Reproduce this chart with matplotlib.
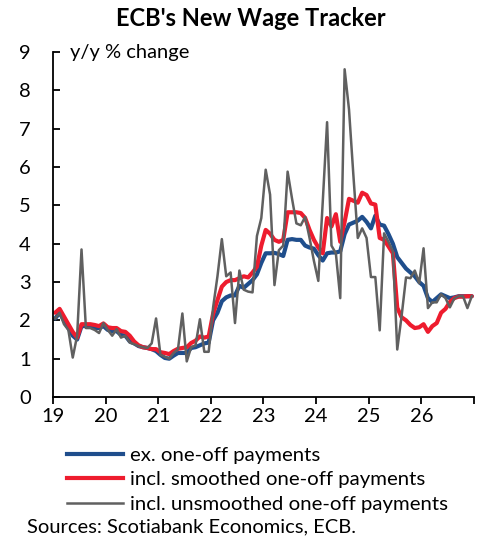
import matplotlib.pyplot as plt
import numpy as np
from matplotlib.lines import Line2D

# monthly data, Jan 2019 - Dec 2026 (y/y % change)
ex_oneoff = [2.05, 2.2, 2.0, 1.8, 1.6, 1.5, 1.85, 1.85, 1.85, 1.8, 1.8, 1.85,
             1.75, 1.72, 1.72, 1.62, 1.6, 1.45, 1.4, 1.33, 1.3, 1.28, 1.25, 1.2,
             1.1, 1.02, 1.0, 1.08, 1.15, 1.15, 1.15, 1.28, 1.3, 1.35, 1.4, 1.42,
             2.0, 2.2, 2.5, 2.6, 2.65, 2.65, 2.9, 2.85, 2.95, 3.05, 3.2, 3.5,
             3.75, 3.75, 3.76, 3.73, 3.68, 4.1, 4.12, 4.1, 4.1, 3.95, 3.9, 3.87,
             3.7, 3.56, 3.75, 3.77, 3.77, 3.8, 4.25, 4.5, 4.55, 4.6, 4.7, 4.57,
             4.4, 4.73, 4.5, 4.47, 4.25, 4.0, 3.65, 3.5, 3.35, 3.25, 3.15, 3.0,
             2.9, 2.58, 2.48, 2.58, 2.68, 2.63, 2.58, 2.6, 2.63, 2.63, 2.63, 2.63]
smoothed = [2.2, 2.3, 2.1, 1.9, 1.7, 1.55, 1.9, 1.9, 1.9, 1.88, 1.85, 1.92,
            1.82, 1.8, 1.8, 1.72, 1.7, 1.6, 1.45, 1.35, 1.3, 1.28, 1.25, 1.25,
            1.17, 1.15, 1.12, 1.2, 1.26, 1.28, 1.3, 1.41, 1.47, 1.58, 1.55, 1.58,
            2.17, 2.53, 2.88, 3.0, 3.05, 3.05, 3.1, 3.15, 3.12, 3.25, 3.4, 3.95,
            4.36, 4.26, 4.1, 4.05, 4.1, 4.82, 4.82, 4.82, 4.8, 4.67, 4.36, 4.1,
            3.9, 3.75, 4.67, 4.45, 4.77, 4.05, 4.57, 5.17, 5.12, 5.07, 5.33, 5.27,
            5.05, 5.02, 4.15, 4.1, 3.93, 3.75, 2.33, 2.08, 2.0, 1.88, 1.8, 1.82,
            1.9, 1.7, 1.85, 1.93, 2.2, 2.3, 2.48, 2.58, 2.62, 2.62, 2.63, 2.63]
unsmoothed = [2.05, 2.2, 1.9, 1.75, 1.03, 1.6, 3.85, 1.8, 1.8, 1.75, 1.67, 1.93,
              1.75, 1.6, 1.77, 1.55, 1.6, 1.42, 1.38, 1.33, 1.3, 1.28, 1.4, 2.05,
              1.1, 1.05, 1.0, 1.15, 1.25, 2.18, 0.93, 1.3, 1.35, 2.03, 1.18, 1.18,
              2.33, 3.15, 4.12, 3.15, 3.25, 1.93, 3.3, 2.8, 2.75, 2.73, 4.2, 4.67,
              5.93, 5.28, 2.92, 3.83, 3.95, 5.88, 5.18, 4.53, 4.48, 4.7, 4.15, 3.55,
              3.03, 5.07, 7.17, 3.95, 3.75, 2.58, 8.55, 7.5, 5.78, 4.15, 4.4, 4.15,
              3.13, 3.13, 1.74, 4.27, 4.05, 3.8, 1.24, 2.12, 3.12, 3.1, 3.3, 2.97,
              3.88, 2.32, 2.47, 2.47, 2.68, 2.58, 2.34, 2.57, 2.63, 2.63, 2.32, 2.63]

years = [19, 20, 21, 22, 23, 24, 25, 26]
labels = ['ex. one-off payments', 'incl. smoothed one-off payments',
          'incl. unsmoothed one-off payments']

plt.rcParams['font.family'] = ['Lato', 'DejaVu Sans']

x = 19 + (np.arange(len(ex_oneoff)) + 0.5) / 12

fig = plt.figure(figsize=(5.02, 5.38), dpi=100)
ax = fig.add_axes([0.1056, 0.262, 0.8386, 0.6413])

ax.plot(x, ex_oneoff, color='#1f4e8c', lw=3, solid_capstyle='round')
ax.plot(x, smoothed, color='#ee1c2e', lw=3, solid_capstyle='round')
ax.plot(x, unsmoothed, color='#606060', lw=1.8)

ax.set_xlim(19, 27)
ax.set_ylim(0, 9)
ax.set_xticks(years + [27])
ax.set_xticklabels([str(y) for y in years] + [''])
ax.set_yticks(range(10))
ax.tick_params(axis='x', direction='out', length=5, width=1.3, labelsize=14.5, pad=3)
ax.tick_params(axis='y', direction='in', length=5, width=1.3, labelsize=14.5, pad=16)
for s in ['top', 'right']:
    ax.spines[s].set_visible(False)
for s in ['left', 'bottom']:
    ax.spines[s].set_linewidth(1.3)

ax.text(0.04, 1.0, 'y/y % change', transform=ax.transAxes, fontsize=14.5,
        va='center', ha='left')

fig.text(0.5, 0.966, "ECB's New Wage Tracker", ha='center', va='center',
         fontsize=17, fontweight='bold')

handles = [Line2D([0], [0], color='#1f4e8c', lw=3),
           Line2D([0], [0], color='#ee1c2e', lw=3),
           Line2D([0], [0], color='#606060', lw=1.8)]
fig.legend(handles, labels, loc='upper left', bbox_to_anchor=(0.1335, 0.17),
           frameon=False, fontsize=14.7, handlelength=2.75, handletextpad=0.33,
           labelspacing=0.35, borderpad=0, borderaxespad=0)

fig.text(0.054, 0.0205, 'Sources: Scotiabank Economics, ECB.', fontsize=14.5,
         ha='left', va='center')

plt.savefig('out.png', dpi=100)
